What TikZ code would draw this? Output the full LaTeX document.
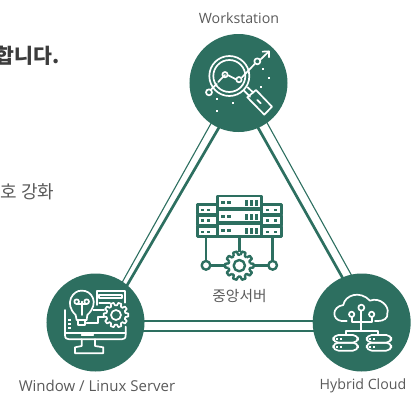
\documentclass[tikz,border=0pt]{standalone}
\usepackage{fontspec}
\setmainfont{Open Sans}
\newfontfamily\krfont{Noto Sans CJK KR}
\usetikzlibrary{backgrounds}
\definecolor{teal1}{HTML}{2D6F60}
\definecolor{txt}{HTML}{5A5A5A}
\definecolor{txtd}{HTML}{3C3C3C}
\tikzset{
  hub/.style={circle,fill=teal1,minimum size=98bp,inner sep=0pt},
  thickln/.style={draw=teal1,line width=2.7bp},
  thinln/.style={draw=teal1,line width=1.1bp},
  lbl/.style={text=txt,font=\fontsize{14.2bp}{16bp}\selectfont,inner sep=0pt},
  wic/.style={draw=white,line width=1.7bp,line join=round,line cap=round},
  gic/.style={draw=teal1,line width=2.4bp,line join=round},
}
\newcommand{\cogpath}[3]{% outer, inner, teeth
  \foreach \i in {1,...,#3}{
    \pgfmathsetmacro{\aa}{\i*360/#3}
    \pgfmathsetmacro{\ss}{360/#3}
    \draw ({\aa-.34*\ss}:#2) -- ({\aa-.2*\ss}:#1) -- ({\aa+.2*\ss}:#1) -- ({\aa+.34*\ss}:#2) -- ({\aa+.66*\ss}:#2);
  }
}
\begin{document}
\begin{tikzpicture}[x=1bp,y=-1bp]
\useasboundingbox (0,0) rectangle (417,394);
\clip (0,0) rectangle (417,394);
\node[hub] (top) at (238.5,83) {};
\node[hub] (lft) at (95.5,322.5) {};
\node[hub] (rgt) at (361.7,322.5) {};
\begin{pgfonlayer}{background}
  \draw[thinln] ([xshift=-4.9bp]top.center) -- ([xshift=4.2bp]lft.center);
  \draw[thickln] ([xshift=6.4bp]top.center) -- ([xshift=9.9bp]lft.center);
  \draw[thickln] ([xshift=-5.6bp]top.center) -- ([xshift=6bp]rgt.center);
  \draw[thinln] ([xshift=6.5bp]top.center) -- ([xshift=16bp]rgt.center);
  \draw[thickln] ([yshift=1.5bp]lft.center) -- ([yshift=1.5bp]rgt.center);
  \draw[thinln] ([yshift=-8.5bp]lft.center) -- ([yshift=-8.5bp]rgt.center);
\end{pgfonlayer}
% labels
\node[lbl] (l1) at (239,18) {Workstation};
\node[lbl] (l2) at (97,385.5) {\fontsize{15bp}{16bp}\selectfont Window / Linux Server};
\node[lbl] (l3) at (363,385.5) {Hybrid Cloud};
\node[lbl,font=\krfont\fontsize{14.7bp}{16bp}\selectfont] (l4) at (239.5,296) {중앙서버};
\node[anchor=base east,inner sep=0pt,text=txtd,font=\krfont\bfseries\fontsize{20.5bp}{24bp}\selectfont] (t1) at (59.5,63) {합니다.};
\node[anchor=base east,inner sep=0pt,text=txt,font=\krfont\fontsize{18bp}{20bp}\selectfont] (t2) at (54.5,198) {호 강화};
% workstation icon
\begin{scope}[shift={(170,0)},x=.3333bp,y=-.3333bp,wic]
  \draw (178,228) circle[radius=60];
  \draw (178,228) circle[radius=48];
  \draw (222,272) -- (240,290);
  \draw (233,262) -- (250,278);
  \draw (232,292) -- (258,270) -- (306,320) -- (283,344) -- cycle;
  \draw (262,300) -- (272,310);
  \draw (150,240) -- (165,225);
  \draw (175,226) -- (198,238);
  \draw (150,240) -- (145,246);
  \draw (216,232) -- (254,192);
  \draw (270,180) -- (296,155);
  \draw (278,155) -- (297,154) -- (297,172);
  \draw (124,268) -- (140,252);
  \draw (117,277) circle[radius=9];
  \draw (165,224) circle[radius=8];
  \draw (207,239) circle[radius=8];
  \draw (262,184) circle[radius=9];
  \foreach \px/\py in {278/208,297/235,272/260,140/298,188/310,140/333}
    \fill[white] (\px-3,\py-3) rectangle (\px+3,\py+3);
\end{scope}
% server icon
\begin{scope}[shift={(30,260)},x=.3333bp,y=-.3333bp,wic]
  \draw (105,150) -- (105,225) .. controls (105,235) and (110,238) .. (118,238) -- (275,238) .. controls (283,238) and (287,235) .. (287,225) -- (287,200);
  \draw (105,218) -- (287,218);
  \draw (155,225) -- (190,225);
  \draw (155,238) -- (155,258) -- (135,262) -- (135,280) -- (220,280) -- (220,262) -- (195,258) -- (195,238);
  \draw (137,165) .. controls (100,130) and (130,90) .. (155,92) .. controls (185,90) and (210,130) .. (172,165) -- (170,180) -- (140,180) -- cycle;
  \draw (145,180) -- (145,195) -- (165,195) -- (165,180);
  \draw (155,165) -- (155,125);
  \draw (140,125) circle[radius=7];
  \draw (170,125) circle[radius=7];
  \draw (140,132) -- (170,132);
  \draw (200,135) -- (200,93) -- (285,93) -- (285,128);
  \draw (208,105) -- (275,105) -- (275,115) -- (208,115) -- cycle;
  \draw (208,128) -- (240,128);
  \draw (190,150) -- (222,150);
  \draw (170,190) -- (205,190) -- (205,172) -- (222,172);
  \foreach \py in {180,192,204} \fill[white] (115,\py-3) rectangle (122,\py+3);
  \begin{scope}[shift={(258,165)}]
    \cogpath{37}{29}{10}
    \draw (0,0) circle[radius=15];
  \end{scope}
\end{scope}
% cloud icon
\begin{scope}[shift={(290,260)},x=.3333bp,y=-.3333bp,wic]
  \draw (170,183) -- (155,183) .. controls (125,180) and (125,140) .. (160,135) .. controls (165,105) and (210,90) .. (240,122) .. controls (270,110) and (300,140) .. (292,160) .. controls (295,175) and (280,183) .. (265,183) -- (255,183);
  \draw (214,143) circle[radius=9];
  \draw (185,163) circle[radius=8];
  \draw (245,163) circle[radius=8];
  \draw (214,152) -- (214,212);
  \draw (185,171) -- (185,187) -- (245,187) -- (245,171);
  \draw (168,225) -- (168,212) -- (265,212) -- (265,225);
  \foreach \ox in {130,230}{
    \draw[rounded corners=5] (\ox,225) rectangle (\ox+74,248);
    \draw[rounded corners=5] (\ox,248) rectangle (\ox+74,272);
    \fill[white] (\ox+8,235) rectangle (\ox+14,239);
    \fill[white] (\ox+20,235) rectangle (\ox+26,239);
    \fill[white] (\ox+8,259) rectangle (\ox+14,263);
    \fill[white] (\ox+20,259) rectangle (\ox+26,263);
  }
\end{scope}
% central server icon
\begin{scope}[shift={(180,180)},x=.3333bp,y=-.3333bp,gic]
  \foreach \ty in {48,90,132}{
    \draw (112,\ty) rectangle (245,\ty+38);
    \fill[teal1] (124,\ty+14) rectangle (134,\ty+23);
    \fill[teal1] (142,\ty+14) rectangle (152,\ty+23);
    \foreach \bx in {195,210,226}
      \fill[teal1] (\bx,\ty+12) rectangle (\bx+8,\ty+30);
  }
  \foreach \ty in {74,106,140}{
    \draw (52,\ty) rectangle (112,\ty+30);
    \fill[teal1] (64,\ty+12) rectangle (73,\ty+19);
    \fill[teal1] (82,\ty+12) rectangle (91,\ty+19);
    \draw (245,\ty) rectangle (305,\ty+30);
    \fill[teal1] (258,\ty+12) rectangle (267,\ty+19);
    \fill[teal1] (282,\ty+12) rectangle (291,\ty+19);
  }
  \draw (78,170) -- (78,243);
  \draw (178,170) -- (178,216);
  \draw (278,170) -- (278,243);
  \draw (78,256) circle[radius=13];
  \draw (278,256) circle[radius=13];
  \draw (91,256) -- (136,256);
  \draw (221,256) -- (265,256);
  \begin{scope}[shift={(178,257)}]
    \cogpath{43}{33}{10}
    \draw (0,0) circle[radius=17];
  \end{scope}
\end{scope}
\end{tikzpicture}
\end{document}
